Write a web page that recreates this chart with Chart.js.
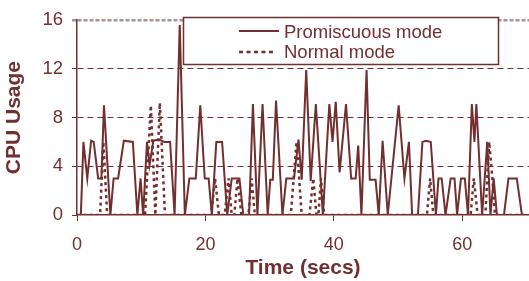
<!DOCTYPE html>
<html>
<head>
<meta charset="utf-8">
<script src="https://cdn.jsdelivr.net/npm/chart.js@4/dist/chart.umd.min.js"></script>
<style>
    html, body { margin: 0; padding: 0; background: #fff; }
    #wrap { width: 529px; height: 281px; }
</style>
</head>
<body>
<div id="wrap"><canvas id="cpuChart" width="529" height="281"></canvas></div>
<script>
// values (time in secs, CPU usage)
const promTime = [0, 0.6, 1.0, 1.6, 2.2, 2.6, 3.3, 3.8, 4.2, 5.2, 5.7, 6.4, 7.3, 8.7, 9.4, 9.9, 10.3, 10.9, 11.3, 11.9,
    12.8, 13.6, 14.5, 15.2, 16.0, 16.8, 17.5, 18.5, 19.2, 19.9, 20.5, 21.0, 21.7, 22.6, 23.4, 24.1, 25.3, 25.9, 26.8, 27.4,
    28.1, 28.9, 29.7, 30.1, 30.5, 31.0, 32.0, 32.6, 33.8, 34.5, 35.0, 35.7, 36.4, 37.2, 38.3, 39.3, 39.8, 40.3, 40.9, 41.9,
    42.7, 43.4, 43.8, 44.3, 45.1, 45.6, 46.5, 47.0, 47.6, 48.4, 50.1, 51.0, 51.7, 52.2, 53.1, 53.8, 54.4, 55.1, 55.9, 56.3,
    56.8, 57.4, 58.2, 58.8, 59.2, 59.8, 60.4, 60.9, 61.5, 61.9, 62.2, 63.1, 63.9, 64.4, 64.9, 65.4, 66.5, 67.2, 68.5, 69.3, 70.4];
const promCpu = [0, 0, 6.0, 3.0, 6.1, 6.0, 3.0, 3.0, 9.0, 0, 3.0, 3.0, 6.1, 6.0, 0, 3.0, 0, 6.0, 4.1, 6.1,
    6.2, 6.0, 6.0, 0, 15.6, 0, 3.0, 3.0, 9.0, 3.0, 3.0, 0, 6.0, 6.0, 0, 3.0, 3.0, 0, 0, 9.1,
    0, 9.1, 0, 2.9, 2.9, 9.4, 0, 3.0, 3.0, 6.2, 2.9, 11.9, 2.8, 9.1, 0, 9.1, 6.0, 9.3, 3.5, 9.1,
    3.0, 3.0, 5.7, 0, 11.9, 2.9, 2.9, 0, 6.1, 0, 9.0, 3.0, 6.0, 0, 0, 6.0, 6.1, 6.0, 0, 3.0,
    3.0, 0, 3.0, 3.0, 0, 3.0, 3.0, 0, 9.1, 6.0, 9.1, 0, 6.0, 0, 3.0, 0, 0, 3.0, 3.0, 0, 0];

const normTime = [0, 3.6, 4.1, 4.7, 10.6, 11.5, 12.2, 12.9, 13.7, 20.9, 21.5, 22.1, 23.0, 23.6, 24.1, 24.5, 25.0, 25.6,
    26.7, 27.2, 27.7, 33.3, 34.2, 35.0, 36.2, 36.8, 37.3, 37.6, 38.0, 38.5, 54.5, 55.0, 55.5, 61.3, 61.8, 62.4,
    63.6, 64.2, 64.7, 65.1, 70.4];
const normCpu = [0, 0, 6.0, 0, 0, 9.0, 0, 9.2, 0, 0, 3.0, 0, 0, 3.0, 0, 0, 3.0, 0,
    0, 3.0, 0, 0, 6.0, 0, 0, 3.0, 0, 0, 3.0, 0, 0, 3.0, 0, 0, 3.0, 0,
    0, 6.0, 3.0, 0, 0];

const seriesNames = ['Promiscuous mode', 'Normal mode'];
const xTickValues = [0, 20, 40, 60];
const maroon = '#722f2f';

function toPoints(xs, ys) {
    return xs.map((x, i) => ({ x: x, y: ys[i] }));
}

const boxLegend = {
    id: 'boxLegend',
    afterDatasetsDraw(chart) {
        const ctx = chart.ctx;
        const left = 183, top = 17, w = 315, h = 47;
        ctx.save();
        ctx.fillStyle = '#fff';
        ctx.fillRect(left, top, w, h);
        ctx.strokeStyle = maroon;
        ctx.lineWidth = 1.5;
        ctx.strokeRect(left + 0.5, top + 0.5, w, h);

        // sample lines
        ctx.lineWidth = 1.8;
        ctx.beginPath();
        ctx.moveTo(239, 31);
        ctx.lineTo(279, 31);
        ctx.stroke();
        ctx.lineWidth = 2.5;
        ctx.setLineDash([4, 3.5]);
        ctx.beginPath();
        ctx.moveTo(239, 52);
        ctx.lineTo(274, 52);
        ctx.stroke();
        ctx.setLineDash([]);

        ctx.fillStyle = maroon;
        ctx.font = '18.5px "Liberation Sans", Arial, sans-serif';
        ctx.textBaseline = 'alphabetic';
        ctx.fillText(seriesNames[0], 284, 37.5);
        ctx.fillText(seriesNames[1], 284, 58);
        ctx.restore();
    }
};

const cpuCtx = document.getElementById('cpuChart').getContext('2d');
const cpuChart = new Chart(cpuCtx, {
    type: 'line',
    data: {
        datasets: [
            {
                label: seriesNames[0],
                data: toPoints(promTime, promCpu),
                borderColor: maroon,
                borderWidth: 2,
                pointRadius: 0,
                tension: 0,
                fill: false
            },
            {
                label: seriesNames[1],
                data: toPoints(normTime, normCpu),
                borderColor: maroon,
                borderWidth: 2.5,
                borderDash: [3, 3.5],
                pointRadius: 0,
                tension: 0,
                fill: false
            }
        ]
    },
    options: {
        responsive: false,
        animation: false,
        layout: { padding: { top: 13, right: 0, left: 0, bottom: 0 } },
        plugins: {
            legend: { display: false },
            tooltip: { enabled: false }
        },
        scales: {
            x: {
                type: 'linear',
                min: 0,
                max: 70.4,
                afterBuildTicks: scale => {
                    scale.ticks = xTickValues.map(v => ({ value: v }));
                },
                afterFit: scale => { scale.height = 66; },
                grid: {
                    drawOnChartArea: false,
                    drawTicks: true,
                    tickLength: 6,
                    tickColor: maroon,
                    tickWidth: 1
                },
                border: { display: true, color: maroon, width: 1.5 },
                ticks: {
                    color: maroon,
                    padding: 13,
                    maxRotation: 0,
                    font: { family: '"Liberation Sans", Arial, sans-serif', size: 18 }
                },
                title: {
                    display: true,
                    text: 'Time (secs)',
                    color: maroon,
                    padding: { top: 0, bottom: 0 },
                    font: { family: '"Liberation Sans", Arial, sans-serif', size: 21, weight: 'bold', lineHeight: 1.2 }
                }
            },
            y: {
                min: 0,
                max: 16,
                afterFit: scale => { scale.width = 77; },
                ticks: {
                    stepSize: 4,
                    color: maroon,
                    padding: 9,
                    font: { family: '"Liberation Sans", Arial, sans-serif', size: 18.5 }
                },
                grid: {
                    drawTicks: true,
                    tickLength: 5,
                    color: c => c.tick && c.tick.value === 0 ? 'rgba(0,0,0,0)' :
                        (c.tick && c.tick.value === 16 ? 'rgba(150,110,110,0.75)' : maroon),
                    lineWidth: c => c.tick && c.tick.value === 16 ? 2.5 : 1,
                    tickColor: c => c.tick && c.tick.value === 16 ? 'rgba(150,110,110,0.75)' : maroon,
                    tickWidth: c => c.tick && c.tick.value === 16 ? 2.5 : 1
                },
                border: {
                    display: true,
                    color: maroon,
                    width: 1.5,
                    dash: c => c.tick && c.tick.value === 16 ? [4, 2] : [6, 4]
                },
                title: {
                    display: true,
                    text: 'CPU Usage',
                    color: maroon,
                    padding: { top: 2, bottom: 0 },
                    font: { family: '"Liberation Sans", Arial, sans-serif', size: 21, weight: 'bold', lineHeight: 1.2 }
                }
            }
        }
    },
    plugins: [boxLegend]
});
</script>
</body>
</html>
